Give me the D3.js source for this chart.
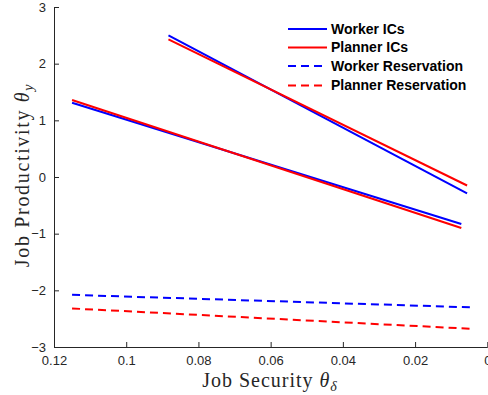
<!DOCTYPE html>
<html><head><meta charset="utf-8">
<script src="https://cdn.jsdelivr.net/npm/d3@7"></script>
<style>body{margin:0;background:#fff}svg{display:block}</style>
</head><body>
<svg id="c" width="488" height="395"></svg>
<script>
// Data (x = job security theta_delta, y = job productivity theta_y)
const workerIC_upper = [[0.0883, 2.50], [0.0056, -0.29]];
const plannerIC_upper = [[0.0883, 2.43], [0.0056, -0.15]];
const workerIC_lower = [[0.115, 1.31], [0.0072, -0.83]];
const plannerIC_lower = [[0.115, 1.36], [0.0072, -0.90]];
const workerRes = [[0.115, -2.08], [0.0044, -2.30]];
const plannerRes = [[0.115, -2.32], [0.0044, -2.68]];
const xTicks = [0.12, 0.1, 0.08, 0.06, 0.04, 0.02, 0];
const xTickLabels = ["0.12", "0.1", "0.08", "0.06", "0.04", "0.02", "0"];
const yTicks = [-3, -2, -1, 0, 1, 2, 3];
const legendLabels = ["Worker ICs", "Planner ICs", "Worker Reservation", "Planner Reservation"];

const svg = d3.select("#c");
const L = 54, R = 487.3, T = 7, B = 347;
const x = d3.scaleLinear().domain([0.12, 0]).range([L, R]);
const y = d3.scaleLinear().domain([-3, 3]).range([B, T]);
const ax = "#262626";

const series = [
  {d: workerIC_upper, c: "#0000ff", dash: null},
  {d: plannerIC_upper, c: "#ff0000", dash: null},
  {d: workerIC_lower, c: "#0000ff", dash: null},
  {d: plannerIC_lower, c: "#ff0000", dash: null},
  {d: workerRes, c: "#0000ff", dash: "8,5"},
  {d: plannerRes, c: "#ff0000", dash: "8,5"}
];
const line = d3.line().x(p => x(p[0])).y(p => y(p[1]));
series.forEach(s => {
  svg.append("path").attr("d", line(s.d)).attr("fill", "none")
    .attr("stroke", s.c).attr("stroke-width", 2)
    .attr("stroke-dasharray", s.dash);
});

// axes
const xa = svg.append("g").attr("transform", `translate(0,${B})`)
  .call(d3.axisBottom(x).tickValues(xTicks).tickFormat((d,i) => xTickLabels[i]).tickSizeInner(-5).tickSizeOuter(0).tickPadding(9));
const ya = svg.append("g").attr("transform", `translate(${L},0)`)
  .call(d3.axisLeft(y).tickValues(yTicks).tickFormat(d3.format("d")).tickSizeInner(-5).tickSizeOuter(0).tickPadding(8));
[xa, ya].forEach(g => {
  g.select(".domain").attr("stroke", ax).attr("stroke-width", 1);
  g.selectAll(".tick line").attr("stroke", ax);
  g.selectAll(".tick text").attr("fill", ax).attr("font-family", "Liberation Sans, Arial, sans-serif").attr("font-size", 13);
});

function fit(sel, target) {
  const w = sel.node().getBBox().width;
  const n = sel.text().length;
  sel.attr("letter-spacing", ((target - w) / n).toFixed(2));
}

// axis titles
const xt = svg.append("text").attr("x", 270).attr("y", 387).attr("text-anchor", "middle")
  .attr("font-family", "Liberation Serif, Times New Roman, serif").attr("font-size", 20).attr("fill", ax);
xt.append("tspan").text("Job Security ");
xt.append("tspan").attr("font-style", "italic").text("θ");
xt.append("tspan").attr("font-style", "italic").attr("font-size", 14).attr("dy", 4).text("δ");
fit(xt, 136);

const yt = svg.append("text").attr("transform", "translate(29,175) rotate(-90)").attr("text-anchor", "middle")
  .attr("font-family", "Liberation Serif, Times New Roman, serif").attr("font-size", 20).attr("fill", ax);
yt.append("tspan").text("Job Productivity ");
yt.append("tspan").attr("font-style", "italic").text("θ");
yt.append("tspan").attr("font-style", "italic").attr("font-size", 14).attr("dy", 4).text("y");
fit(yt, 185);

// legend
const legY = [29, 47.5, 66, 85.5];
const legC = ["#0000ff", "#ff0000", "#0000ff", "#ff0000"];
const legD = [null, null, "8,5", "8,5"];
legendLabels.forEach((t, i) => {
  svg.append("line").attr("x1", 288).attr("x2", 327).attr("y1", legY[i]).attr("y2", legY[i])
    .attr("stroke", legC[i]).attr("stroke-width", 2).attr("stroke-dasharray", legD[i]);
  svg.append("text").attr("x", 331).attr("y", legY[i]).attr("dy", "0.35em")
    .attr("font-family", "Liberation Sans, Arial, sans-serif").attr("font-weight", "bold")
    .attr("font-size", 14).attr("fill", "#000").text(t);
});
</script>
</body></html>
